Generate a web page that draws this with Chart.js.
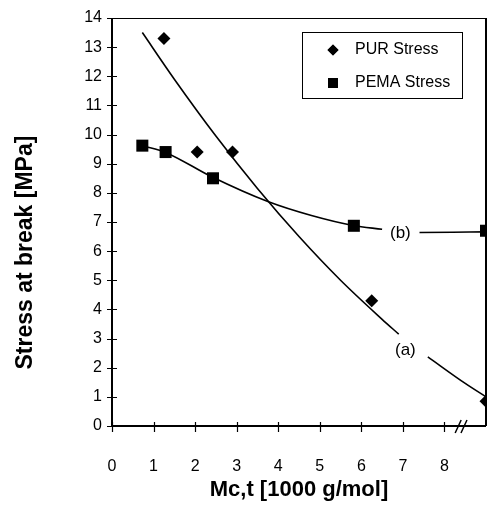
<!DOCTYPE html>
<html>
<head>
<meta charset="utf-8">
<script src="https://cdn.jsdelivr.net/npm/chart.js@4.4.0/dist/chart.umd.min.js"></script>
<style>
  html, body { margin: 0; padding: 0; background: #fff; }
  #wrap { width: 490px; height: 505px; }
</style>
</head>
<body>
<div id="wrap"><canvas id="stressChart" width="490" height="505"></canvas></div>
<script>
// --- data ---
const purX = [1.25, 2.05, 2.9, 6.25, 9.0];
const purY = [13.3, 9.4, 9.4, 4.3, 0.85];
const pemaX = [0.73, 1.29, 2.43, 5.82, 9.0];
const pemaY = [9.62, 9.4, 8.5, 6.87, 6.7];

// fitted curves (a) PUR and (b) PEMA, gaps where the labels sit
const curveAX = [0.73, 1.5, 2.5, 3.5, 4.5, 5.5, 6.5, 6.9, 7.2, 7.6, 8.5, 9.0];
const curveAY = [13.5, 11.9, 9.95, 8.15, 6.5, 5.0, 3.66, 3.15, null, 2.37, 1.46, 1.0];
const curveBX = [0.73, 1.3, 2.4, 3.75, 4.8, 5.8, 6.5, 6.9, 7.4, 8.2, 9.0];
const curveBY = [9.62, 9.38, 8.55, 7.7, 7.22, 6.88, 6.75, null, 6.64, 6.65, 6.66];

const xTicks = [0, 1, 2, 3, 4, 5, 6, 7, 8];
const yTicks = [0, 1, 2, 3, 4, 5, 6, 7, 8, 9, 10, 11, 12, 13, 14];
const curveLabels = [
    { text: '(a)', x: 7.06, y: 2.6 },
    { text: '(b)', x: 6.94, y: 6.62 },
];
const yTitle = 'Stress at break [MPa]';

const ink = '#000';
const fontFamily = "'Liberation Sans', Arial, Helvetica, sans-serif";

const toPoints = (xs, ys) => xs.map((x, i) => ({ x: x, y: ys[i] }));

// frame, crossing ticks, axis break, curve labels, y title and the boxed legend
const decorations = {
    id: 'decorations',
    afterDraw(chart) {
        const ctx = chart.ctx;
        const area = chart.chartArea;
        const xs = chart.scales.x;
        const ys = chart.scales.y;
        ctx.save();
        ctx.strokeStyle = ink;
        ctx.fillStyle = ink;

        // top border (thin)
        ctx.lineWidth = 1;
        ctx.beginPath();
        ctx.moveTo(area.left, area.top + 0.5);
        ctx.lineTo(area.right, area.top + 0.5);
        ctx.stroke();

        // left, bottom, right axes
        ctx.lineWidth = 2;
        ctx.beginPath();
        ctx.moveTo(area.left, area.top);
        ctx.lineTo(area.left, area.bottom);
        ctx.lineTo(area.right, area.bottom);
        ctx.moveTo(area.right, area.top);
        ctx.lineTo(area.right, area.bottom);
        ctx.stroke();

        // tick marks across the axes
        ctx.lineWidth = 1.2;
        ctx.beginPath();
        yTicks.forEach(v => {
            const py = Math.round(ys.getPixelForValue(v)) + 0.5;
            ctx.moveTo(area.left - 5, py);
            ctx.lineTo(area.left + 5, py);
        });
        xTicks.forEach(v => {
            const px = Math.round(xs.getPixelForValue(v)) + 0.5;
            ctx.moveTo(px, area.bottom - 4);
            ctx.lineTo(px, area.bottom + 6);
        });
        ctx.stroke();

        // axis break "//"
        ctx.lineWidth = 1.5;
        ctx.beginPath();
        [8.33, 8.47].forEach(v => {
            const px = xs.getPixelForValue(v);
            ctx.moveTo(px - 3, area.bottom + 7);
            ctx.lineTo(px + 3, area.bottom - 6);
        });
        ctx.stroke();

        // curve labels
        ctx.font = '17px ' + fontFamily;
        ctx.textAlign = 'center';
        ctx.textBaseline = 'middle';
        curveLabels.forEach(l => {
            ctx.fillText(l.text, xs.getPixelForValue(l.x), ys.getPixelForValue(l.y));
        });

        // y axis title, sitting a little below the middle as in the figure
        ctx.save();
        ctx.translate(26, area.top + (area.bottom - area.top) * 0.575);
        ctx.rotate(-Math.PI / 2);
        ctx.font = 'bold 23px ' + fontFamily;
        ctx.fillText(yTitle, 0, 0);
        ctx.restore();

        // legend box
        const bx = area.right - 184;
        const by = area.top + 14;
        const bw = 160;
        const bh = 66;
        ctx.fillStyle = '#fff';
        ctx.fillRect(bx, by, bw, bh);
        ctx.lineWidth = 1;
        ctx.strokeRect(bx + 0.5, by + 0.5, bw, bh);
        ctx.fillStyle = ink;
        ctx.font = '16px ' + fontFamily;
        ctx.textAlign = 'left';
        const items = chart.data.datasets.filter(d => d.inLegend);
        items.forEach((d, i) => {
            const cy = by + 18 + i * 33;
            Chart.helpers.drawPoint(ctx, {
                pointStyle: d.pointStyle,
                radius: d.legendRadius,
                borderWidth: 0,
                rotation: 0
            }, bx + 31, cy);
            ctx.fill();
            ctx.fillText(d.label, bx + 53, cy);
        });
        ctx.restore();
    }
};

new Chart(document.getElementById('stressChart'), {
    type: 'scatter',
    data: {
        datasets: [
            {
                label: 'PUR Stress', inLegend: true, legendRadius: 5.5,
                data: toPoints(purX, purY),
                pointStyle: 'rectRot', pointRadius: 6.5,
                backgroundColor: ink, borderColor: ink, borderWidth: 0
            },
            {
                label: 'PEMA Stress', inLegend: true, legendRadius: 7,
                data: toPoints(pemaX, pemaY),
                pointStyle: 'rect', pointRadius: 8.5,
                backgroundColor: ink, borderColor: ink, borderWidth: 0
            },
            {
                type: 'line', label: 'curve a',
                data: toPoints(curveAX, curveAY),
                borderColor: ink, borderWidth: 1.6, pointRadius: 0,
                cubicInterpolationMode: 'monotone', spanGaps: false, fill: false
            },
            {
                type: 'line', label: 'curve b',
                data: toPoints(curveBX, curveBY),
                borderColor: ink, borderWidth: 1.6, pointRadius: 0,
                cubicInterpolationMode: 'monotone', spanGaps: false, fill: false
            }
        ]
    },
    options: {
        responsive: false,
        animation: false,
        layout: { autoPadding: false, padding: { top: 18, right: 4, left: 0, bottom: 0 } },
        plugins: { legend: { display: false }, tooltip: { enabled: false } },
        scales: {
            x: {
                type: 'linear', min: 0, max: 9,
                grid: { display: false, drawTicks: false },
                border: { display: false },
                ticks: {
                    stepSize: 1, padding: 31, color: ink,
                    font: { family: fontFamily, size: 16 },
                    callback: v => (v === 9 ? '' : v)
                },
                title: {
                    display: true, text: 'Mc,t [1000 g/mol]', color: ink,
                    font: { family: fontFamily, size: 22, weight: 'bold' },
                    padding: { top: 0, bottom: 2 }
                },
                afterFit: s => { s.height = 79; s.paddingLeft = 0; s.paddingRight = 0; }
            },
            y: {
                type: 'linear', min: 0, max: 14,
                grid: { display: false, drawTicks: false },
                border: { display: false },
                ticks: {
                    stepSize: 1, padding: 10, color: ink,
                    font: { family: fontFamily, size: 16 }
                },
                title: { display: false },
                afterFit: s => { s.width = 112; s.paddingTop = 0; s.paddingBottom = 0; }
            }
        }
    },
    plugins: [decorations]
});
</script>
</body>
</html>
